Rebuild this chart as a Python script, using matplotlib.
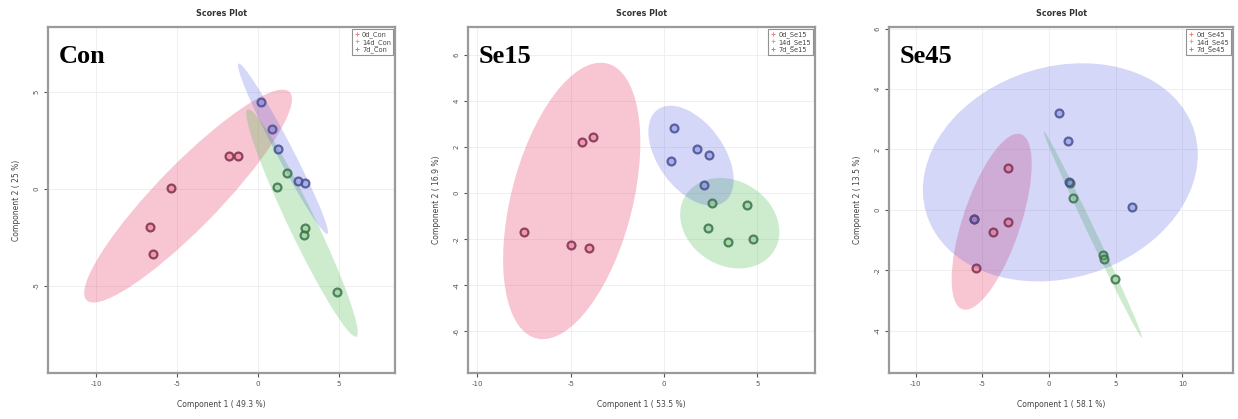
import numpy as np
import matplotlib
matplotlib.use("Agg")
import matplotlib.pyplot as plt
from matplotlib.patches import Ellipse
from matplotlib.lines import Line2D
from matplotlib.colors import to_rgba

plt.rcParams["axes.unicode_minus"] = False

# ---------------- data ----------------
panel_names = ["Con", "Se15", "Se45"]
x_labels = ["Component 1 ( 49.3 %)", "Component 1 ( 53.5 %)", "Component 1 ( 58.1 %)"]
y_labels = ["Component 2 ( 25 %)", "Component 2 ( 16.9 %)", "Component 2 ( 13.5 %)"]

con_groups = ["0d_Con", "14d_Con", "7d_Con"]
con_0d_x = [-5.4, -1.8, -1.2, -6.7, -6.5]
con_0d_y = [0.05, 1.7, 1.7, -1.96, -3.35]
con_14d_x = [1.8, 1.2, 2.95, 2.85, 4.9]
con_14d_y = [0.8, 0.1, -2.0, -2.4, -5.3]
con_7d_x = [0.2, 0.9, 1.25, 2.5, 2.95]
con_7d_y = [4.5, 3.1, 2.05, 0.4, 0.3]

se15_groups = ["0d_Se15", "14d_Se15", "7d_Se15"]
se15_0d_x = [-4.4, -3.8, -7.5, -5.0, -4.0]
se15_0d_y = [2.2, 2.45, -1.7, -2.25, -2.4]
se15_14d_x = [2.6, 4.45, 2.35, 3.45, 4.8]
se15_14d_y = [-0.43, -0.5, -1.5, -2.1, -2.0]
se15_7d_x = [0.55, 0.37, 1.8, 2.4, 2.15]
se15_7d_y = [2.8, 1.4, 1.9, 1.65, 0.35]

se45_groups = ["0d_Se45", "14d_Se45", "7d_Se45"]
se45_0d_x = [-3.1, -5.6, -4.2, -3.1, -5.5]
se45_0d_y = [1.39, -0.3, -0.73, -0.4, -1.93]
se45_14d_x = [1.6, 1.8, 4.05, 4.1, 4.95]
se45_14d_y = [0.9, 0.4, -1.5, -1.63, -2.3]
se45_7d_x = [0.75, 1.4, 1.5, 6.2, -5.6]
se45_7d_y = [3.2, 2.28, 0.92, 0.1, -0.3]

x_ticks = [[-10, -5, 0, 5], [-10, -5, 0, 5], [-10, -5, 0, 5, 10]]
y_ticks = [[-5, 0, 5], [-6, -4, -2, 0, 2, 4, 6], [-4, -2, 0, 2, 4, 6]]
x_lims = [(-13.0, 8.5), (-10.5, 8.1), (-12.0, 13.8)]
y_lims = [(-9.5, 8.35), (-7.8, 7.2), (-5.4, 6.05)]

panels = [
    (con_groups, [(con_0d_x, con_0d_y), (con_14d_x, con_14d_y), (con_7d_x, con_7d_y)]),
    (se15_groups, [(se15_0d_x, se15_0d_y), (se15_14d_x, se15_14d_y), (se15_7d_x, se15_7d_y)]),
    (se45_groups, [(se45_0d_x, se45_0d_y), (se45_14d_x, se45_14d_y), (se45_7d_x, se45_7d_y)]),
]

# ---------------- style ----------------
fill_cols = ["#E8456A", "#5CBF5C", "#5562E0"]
fill_alpha = [0.30, 0.30, 0.25]
edge_cols = ["#7A3050", "#3E7050", "#4A4F8F"]
legend_cols = ["#F08080", "#90D090", "#8090E0"]
axes_lr = [(48, 395), (468, 815), (889, 1233)]
W, H = 1238, 419
top_px, bot_px = 27, 373

chi2_95 = -2.0 * np.log(0.05)  # chi-square quantile, 2 df

fig = plt.figure(figsize=(W / 100, H / 100), dpi=100)

for i, (groups, data) in enumerate(panels):
    l, r = axes_lr[i]
    ax = fig.add_axes([l / W, 1 - bot_px / H, (r - l) / W, (bot_px - top_px) / H])
    ax.set_xlim(*x_lims[i])
    ax.set_ylim(*y_lims[i])
    ax.set_xticks(x_ticks[i])
    ax.set_yticks(y_ticks[i])
    ax.grid(True, color="#efefef", lw=0.7, zorder=0)
    ax.set_axisbelow(True)

    # confidence ellipses computed from the points
    for k, (xs, ys) in enumerate(data):
        pts = np.column_stack([xs, ys])
        mu = pts.mean(axis=0)
        cov = np.cov(pts, rowvar=False)
        vals, vecs = np.linalg.eigh(cov)
        order = vals.argsort()[::-1]
        vals, vecs = vals[order], vecs[:, order]
        angle = np.degrees(np.arctan2(vecs[1, 0], vecs[0, 0]))
        w, h = 2 * np.sqrt(chi2_95 * vals)
        e = Ellipse(mu, w, h, angle=angle, facecolor=fill_cols[k],
                    alpha=fill_alpha[k], edgecolor="none", zorder=1)
        ax.add_patch(e)

    for k, (xs, ys) in enumerate(data):
        ax.scatter(xs, ys, s=32, facecolor=to_rgba(fill_cols[k], 0.35),
                   edgecolor=to_rgba(edge_cols[k], 0.85), linewidth=1.6, zorder=3)

    for side in ax.spines.values():
        side.set_color("#9a9a9a")
        side.set_linewidth(1.6)
    ax.tick_params(axis="both", labelsize=5, colors="#555555", length=3,
                   width=0.8, pad=3)
    for lab in ax.get_yticklabels():
        lab.set_rotation(90)
        lab.set_va("center")

    ax.set_xlabel(x_labels[i], fontsize=5.5, color="#444444", labelpad=9)
    ax.set_ylabel(y_labels[i], fontsize=5.5, color="#444444", labelpad=9)
    ax.set_title("Scores Plot", fontsize=5.8, fontweight="bold",
                 color="#333333", pad=8)

    ax.text(11 / (r - l), 0.895, panel_names[i], transform=ax.transAxes,
            fontsize=19, fontweight="bold", family="Liberation Serif",
            va="baseline", ha="left", zorder=5)

    handles = [Line2D([], [], ls="none", marker="+", markersize=3,
                      markeredgewidth=0.7, color=legend_cols[k]) for k in range(3)]
    leg = ax.legend(handles, groups, loc="upper right", fontsize=4.8,
                    frameon=True, fancybox=False, borderaxespad=0.3,
                    handlelength=0.8, handletextpad=0.4, borderpad=0.3,
                    labelspacing=0.15)
    leg.get_frame().set_edgecolor("#777777")
    leg.get_frame().set_linewidth(0.8)
    for t in leg.get_texts():
        t.set_color("#444444")

fig.savefig("out.png", dpi=100)
